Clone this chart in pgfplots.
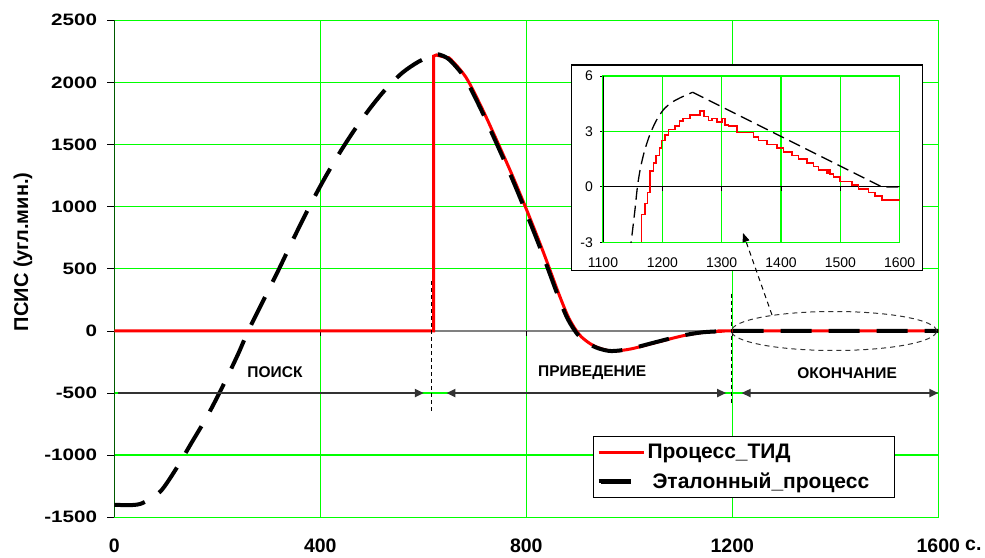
\documentclass[border=0pt]{standalone}
\usepackage{fontspec}
\setmainfont{Liberation Sans}
\usepackage{graphicx}
\usepackage{pgfplots}
\pgfplotsset{compat=1.18}
\usetikzlibrary{arrows.meta}
\definecolor{grn}{RGB}{0,255,0}
\definecolor{dgray}{RGB}{51,51,51}
\begin{document}
\begin{tikzpicture}[x=1pt,y=1pt]
\begin{axis}[
  at={(114.3pt,39.7pt)}, anchor=south west,
  scale only axis, width=824pt, height=497pt,
  xmin=0, xmax=1600, ymin=-1500, ymax=2500,
  xtick={0,400,800,1200,1600},
  ytick={-1500,-1000,...,2500},
  grid=major, major grid style={draw=grn, line width=1.4pt},
  axis line style={draw=grn, line width=1.4pt},
  tick align=outside, ytick pos=left, xtick pos=bottom,
  major tick length=7pt,
  ytick style={draw=black, line width=0.8pt},
  xtick style={draw=none},
  /pgf/number format/.cd, 1000 sep={}, assume math mode=true, /pgfplots/.cd,
  yticklabel={\scalebox{1.25}[1]{\pgfmathprintnumber{\tick}}},
  yticklabel style={font=\bfseries\fontsize{16.5}{18}\selectfont, anchor=east, inner sep=0pt, xshift=-10pt},
  xticklabel style={font=\bfseries\fontsize{19.5}{22}\selectfont, anchor=north, inner sep=0pt, yshift=-14pt},
  ylabel={ПСИС (угл.мин.)},
  ylabel style={at={(rel axis cs:-0.1108,0.534)}, anchor=center, font=\bfseries\fontsize{20}{22}\selectfont},
  legend style={at={(rel axis cs:0.581,0.1636)}, anchor=north west, draw=black, line width=1pt, fill=white,
    font=\bfseries\fontsize{21}{24}\selectfont, inner xsep=3pt, inner ysep=6pt, row sep=8pt,
    /tikz/every even column/.append style={column sep=4pt}},
  legend cell align=left,
]
% zero axis line and left axis line
\draw[gray, line width=1.5pt] (axis cs:0,0) -- (axis cs:1600,0);
\pgfplotsinvokeforeach{400,800,1200}{\draw[black, line width=0.8pt] (axis cs:#1,0) -- ++(0pt,-5pt);}
\draw[black, line width=1pt] (axis cs:0,-1500) -- (axis cs:0,2500);

\addplot[red, line width=3pt, sharp plot,
  legend image code/.code={\draw[red, line width=3pt] (0pt,0pt) -- (45pt,0pt);}]
  coordinates {(0,0) (620,0) (620,2212) (626,2222)};
\addlegendentry{Процесс\_ТИД}
\addplot[red, line width=3pt, smooth, tension=0.5, forget plot]
  coordinates {(624,2222) (645,2200) (653,2187) (683,2040) (713,1800) (743,1530) (773,1250)
   (803,950) (833,635) (863,300) (883,100) (903,-30) (923,-100) (943,-140) (968,-162)
   (1003,-145) (1053,-92) (1103,-40) (1143,-12) (1183,-2) (1200,0) (1600,0)};

\addplot[black, line width=4pt, dash pattern=on 31pt off 17pt, smooth, tension=0.5,
  legend image code/.code={\draw[black, line width=5pt] (2pt,0pt) -- (32pt,0pt); \path (0pt,0pt) -- (45pt,0pt);}]
  coordinates {(0,-1400) (40,-1400) (60,-1375) (90,-1290) (120,-1110) (150,-900) (180,-690)
   (210,-450) (240,-190) (260,0) (290,250) (320,500) (350,760) (380,1010) (410,1240)
   (440,1450) (470,1640) (500,1810) (530,1960) (560,2080) (590,2165) (620,2222) (630,2225)
   (650,2185) (680,2040) (710,1800) (740,1530) (770,1250) (800,950) (830,635) (860,300)
   (880,100) (900,-30) (920,-100) (940,-140) (965,-162) (1000,-145) (1050,-92) (1100,-40)
   (1140,-12) (1180,-2) (1200,0) (1400,0) (1600,0)};
\addlegendentry{\hspace*{5pt}Эталонный\_процесс\hspace*{20pt}\mbox{}}

% phase annotations
\draw[black, line width=1pt, dash pattern=on 4pt off 3pt] (axis cs:616,400) -- (axis cs:616,-660);
\draw[black, line width=1pt, dash pattern=on 4pt off 3pt] (axis cs:1199,300) -- (axis cs:1199,-600);
\draw[dgray, line width=2pt, -{Triangle[length=9pt,width=8pt]}] (axis cs:7,-500) -- (axis cs:601,-500);
\draw[dgray, line width=2pt, {Triangle[length=9pt,width=8pt]}-{Triangle[length=9pt,width=8pt]}] (axis cs:645,-500) -- (axis cs:1188,-500);
\draw[dgray, line width=2pt, {Triangle[length=9pt,width=8pt]}-{Triangle[length=9pt,width=8pt]}] (axis cs:1218,-500) -- (axis cs:1600,-500);
\node[font=\bfseries\fontsize{15.5}{18}\selectfont] at (axis cs:312,-335) {ПОИСК};
\node[font=\bfseries\fontsize{15.5}{18}\selectfont] at (axis cs:928,-335) {ПРИВЕДЕНИЕ};
\node[font=\bfseries\fontsize{15.5}{18}\selectfont] at (axis cs:1423,-340) {ОКОНЧАНИЕ};
\end{axis}

% ellipse around the final part
\draw[dgray, line width=1pt, dash pattern=on 5pt off 4pt] (834pt,226pt) ellipse [x radius=102.5pt, y radius=19.5pt];

% inset
\fill[white] (571.7pt,286.3pt) rectangle (922.7pt,492pt);
\draw[black, line width=1.2pt] (571.7pt,286.3pt) rectangle (922.7pt,492pt);
\begin{axis}[
  at={(603pt,314.7pt)}, anchor=south west,
  scale only axis, width=296.7pt, height=166.3pt,
  xmin=1100, xmax=1600, ymin=-3, ymax=6,
  xtick={1100,1200,...,1600}, ytick={-3,0,3,6},
  grid=major, major grid style={draw=grn, line width=1.1pt},
  axis line style={draw=grn, line width=1.1pt},
  tick align=outside, ytick pos=left, xtick pos=bottom,
  major tick length=3pt,
  ytick style={draw=black, line width=0.8pt},
  xtick style={draw=none},
  /pgf/number format/.cd, 1000 sep={}, assume math mode=true, /pgfplots/.cd,
  ticklabel style={font=\fontsize{14}{16}\selectfont},
  yticklabel style={anchor=east, inner sep=0pt, xshift=-7pt},
  xticklabel style={anchor=north, inner sep=0pt, yshift=-12pt},
]
\draw[black, line width=1pt] (axis cs:1100,0) -- (axis cs:1600,0);
\pgfplotsinvokeforeach{1200,1300,1400,1500}{\draw[black, line width=0.8pt] (axis cs:#1,0) -- ++(0pt,-4pt);}
\draw[black, line width=1.2pt] (axis cs:1100,-3) -- (axis cs:1100,6);
\addplot[red, line width=1.6pt, const plot mark left]
  coordinates {(1165,-3) (1165,-1.5) (1170.8,-0.9) (1174.8,-0.3) (1179.3,0.85) (1184.9,1.3)
   (1189.4,1.7) (1195,2.1) (1198.9,2.5) (1204.6,2.8) (1210.2,3.1) (1221.4,3.3) (1228.7,3.55)
   (1234.3,3.7) (1246.7,3.9) (1263.6,4.1) (1270.3,3.8) (1277.6,3.6) (1283.2,3.7) (1291.7,3.5)
   (1300.1,3.7) (1305.7,3.35) (1311.4,3.3) (1325.4,2.95) (1353.5,2.7) (1361.9,2.5) (1376,2.3)
   (1392.9,2.1) (1404.1,1.9) (1418.2,1.7) (1429.4,1.5) (1443.5,1.3) (1454.7,1.1) (1463.1,0.9)
   (1477.2,0.75) (1480,0.95) (1482.8,0.7) (1488.4,0.55) (1499.7,0.3) (1519.3,0.1) (1530.6,-0.1)
   (1547.4,-0.3) (1558.7,-0.5) (1569.9,-0.7) (1600,-0.7)};
\addplot[black, line width=1.3pt, dash pattern=on 12pt off 6pt, smooth, tension=0.5]
  coordinates {(1145,-3.6) (1150,-2.3) (1154,-1.2) (1158,0) (1163,1.0) (1170,1.95) (1179,2.83)
   (1190,3.6) (1202,4.18) (1215,4.55) (1230,4.82) (1251,5.12)};
\addplot[black, line width=1.3pt, dash pattern=on 12pt off 6pt, sharp plot]
  coordinates {(1251,5.12) (1570,0) (1600,0)};
\end{axis}

% arrow from ellipse to inset
\draw[black, line width=1pt, dash pattern=on 5pt off 4pt, -{Triangle[length=9pt,width=7pt]}] (772pt,242pt) -- (743pt,324pt);
% units label
\node[anchor=base west, inner sep=0pt, font=\bfseries\fontsize{19.5}{22}\selectfont] at (965pt,7pt) {с.};

\pgfresetboundingbox
\useasboundingbox (0pt,0pt) rectangle (985pt,557pt);
\end{tikzpicture}
\end{document}
